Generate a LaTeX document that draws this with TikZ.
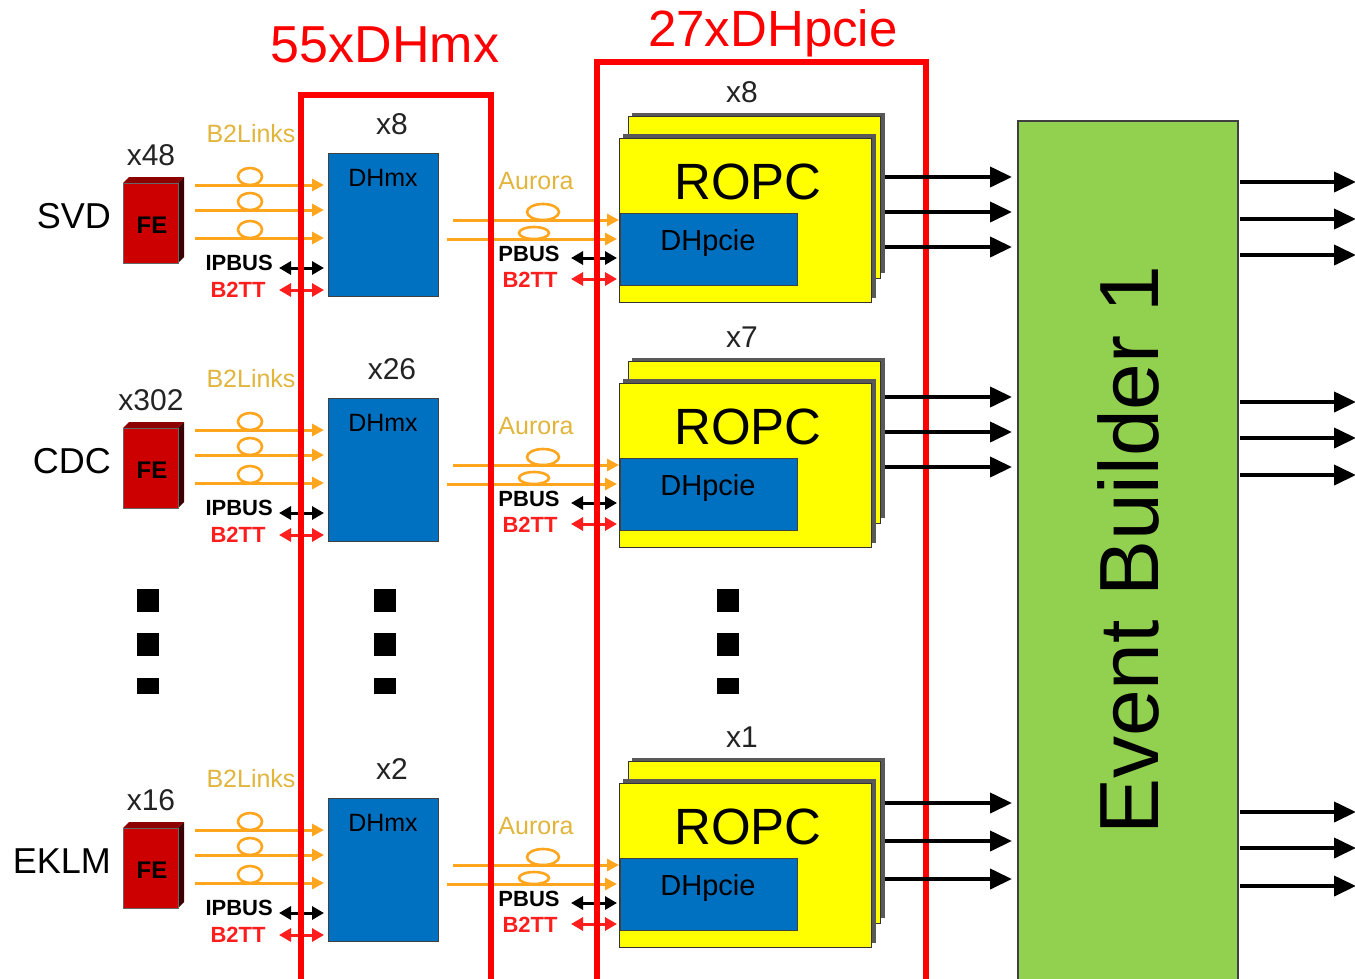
\documentclass[tikz,border=0pt]{standalone}
\usepackage{fontspec}
\setmainfont{Liberation Sans}
\usetikzlibrary{arrows.meta}
\definecolor{frred}{RGB}{255,0,0}
\definecolor{feRed}{RGB}{204,0,0}
\definecolor{feTop}{RGB}{140,0,0}
\definecolor{feSide}{RGB}{60,0,0}
\definecolor{orangeL}{RGB}{255,165,30}
\definecolor{gold}{RGB}{225,180,60}
\definecolor{dhblue}{RGB}{0,112,192}
\definecolor{ebgreen}{RGB}{146,208,80}
\definecolor{ropcY}{RGB}{255,255,0}
\definecolor{labgray}{RGB}{35,35,35}
\definecolor{sigred}{RGB}{255,30,30}
\newcommand\fsz[1]{\fontsize{#1}{#1}\selectfont}
\begin{document}
\begin{tikzpicture}[x=1pt,y=-1pt,
  txt/.style={inner sep=0pt},
  orarr/.style={draw=orangeL, line width=3, -{Triangle[length=12pt,width=12pt]}},
  fiberloop/.style={draw=orangeL, line width=2.6},
  blkdbl/.style={draw=black, line width=3, {Triangle[length=12pt,width=13pt]}-{Triangle[length=12pt,width=13pt]}},
  reddbl/.style={draw=sigred, line width=3, {Triangle[length=12pt,width=13pt]}-{Triangle[length=12pt,width=13pt]}},
  ebarr/.style={draw=black, line width=4, -{Triangle[length=22pt,width=20pt]}},
  bluebox/.style={fill=dhblue, draw=black!75, line width=1},
  ybox/.style={fill=ropcY, draw=black!80, line width=1},
  shadowbox/.style={fill=black!65},
  frame/.style={draw=frred, line width=6, line join=miter},
  sigtxt/.style={txt, font=\bfseries\fsz{22}},
  multtxt/.style={txt, font=\fsz{30}, text=labgray}
]
\useasboundingbox (0,0) rectangle (1355,978);
\clip (0,0) rectangle (1355,978);

% titles
\node[txt, text=frred, font=\fsz{52}] (t1) at (385,45) {55xDHmx};
\node[txt, text=frred, font=\fsz{51}] (t2) at (773,33) {27xDHpcie};

% event builder
\node[fill=ebgreen, draw=black!75, line width=1.5, anchor=north west, minimum width=220pt, minimum height=880pt, inner sep=0pt] (eb) at (1017,120) {};
\node[txt, font=\fsz{84}, rotate=90] (ebt) at (1128,550) {Event Builder 1};

\foreach \o/\nm/\mult/\dmult/\rmult/\r in {0/SVD/x48/x8/x8/a, 245/CDC/x302/x26/x7/b, 645/EKLM/x16/x2/x1/c}{
\begin{scope}[shift={(0,\o)}]
  % detector label
  \node[txt, anchor=east, font=\fsz{36}] (name\r) at (111,216) {\nm};
  \node[multtxt] (mult\r) at (151,155) {\mult};
  % FE 3D box
  \fill[feTop] (123,183) -- (129,177) -- (184,177) -- (178,183) -- cycle;
  \fill[feSide] (178,183) -- (184,177) -- (184,257) -- (178,263) -- cycle;
  \node[fill=feRed, draw=black!60, line width=0.8, anchor=north west, minimum width=55pt, minimum height=80pt, inner sep=0pt] (fe\r) at (123,183) {};
  \node[txt, font=\bfseries\fsz{24}] (fet\r) at (152,225) {FE};
  % B2Links
  \node[txt, text=gold, font=\fsz{25}] (b2l\r) at (251,134) {B2Links};
  \foreach \yy in {185,210,238}{
    \draw[orarr] (195,\yy) -- (324,\yy);
    \draw[fiberloop] (250,\yy-8.5) ellipse [x radius=12, y radius=8.5];
  }
  \node[sigtxt, anchor=east] (ipb\r) at (273,263) {IPBUS};
  \draw[blkdbl] (279,268) -- (324,268);
  \node[sigtxt, text=sigred] (b2tt\r) at (238,290) {B2TT};
  \draw[reddbl] (279,290) -- (324,290);
  % DHmx
  \node[multtxt] (dm\r) at (392,124) {\dmult};
  \node[bluebox, anchor=north west, minimum width=110pt, minimum height=143pt, inner sep=0pt] (dhmx\r) at (328,153) {};
  \node[txt, font=\fsz{25}] (dhmxt\r) at (383,178) {DHmx};
  % Aurora
  \node[txt, text=gold, font=\fsz{25}] (aur\r) at (536,181) {Aurora};
  \draw[orarr] (453,220) -- (619,220);
  \draw[orarr] (447,239) -- (617,239);
  \draw[fiberloop] (543,212) ellipse [x radius=16, y radius=8];
  \draw[fiberloop] (534,233) ellipse [x radius=15, y radius=6];
  \node[sigtxt] (pbus\r) at (529,254) {PBUS};
  \draw[blkdbl] (571,258) -- (617,258);
  \node[sigtxt, text=sigred] (b2ttb\r) at (530,280) {B2TT};
  \draw[reddbl] (571,279) -- (617,279);
  % ROPC stack
  \node[multtxt] (rm\r) at (742,92) {\rmult};
  \fill[shadowbox] (632,113) rectangle (885,273);
  \node[ybox, anchor=north west, minimum width=252pt, minimum height=162pt, inner sep=0pt] (ropcb\r) at (628,116) {};
  \fill[shadowbox] (623,134) rectangle (876,298);
  \node[ybox, anchor=north west, minimum width=252pt, minimum height=164pt, inner sep=0pt] (ropc\r) at (619,138) {};
  \node[txt, font=\fsz{51}] (ropct\r) at (748,182) {ROPC};
  \node[bluebox, anchor=north west, minimum width=177pt, minimum height=72pt, inner sep=0pt] (dhp\r) at (620,213) {};
  \node[txt, font=\fsz{29}] (dhpt\r) at (708,243) {DHpcie};
\end{scope}
}

% continuation dots
\foreach \xx in {148,385,728}{
  \fill (\xx-11,589) rectangle (\xx+11,612);
  \fill (\xx-11,633) rectangle (\xx+11,656);
  \fill (\xx-11,678) rectangle (\xx+11,694);
}

% red frames
\draw[frame] (301,990) -- (301,95) -- (491,95) -- (491,990);
\draw[frame] (597,990) -- (597,62) -- (926,62) -- (926,990);

% ROPC to event builder
\foreach \yy in {177,212,247, 397,432,467, 803,841,879}{
  \coordinate (s) at (885,\yy);
  \draw[ebarr] (s) -- (1012,\yy);
}
% event builder outputs
\foreach \yy in {182,219,255, 402,438,475, 812,848,886}{
  \coordinate (o) at (1240,\yy);
  \draw[ebarr] (o) -- (1356,\yy);
}
\end{tikzpicture}
\end{document}
